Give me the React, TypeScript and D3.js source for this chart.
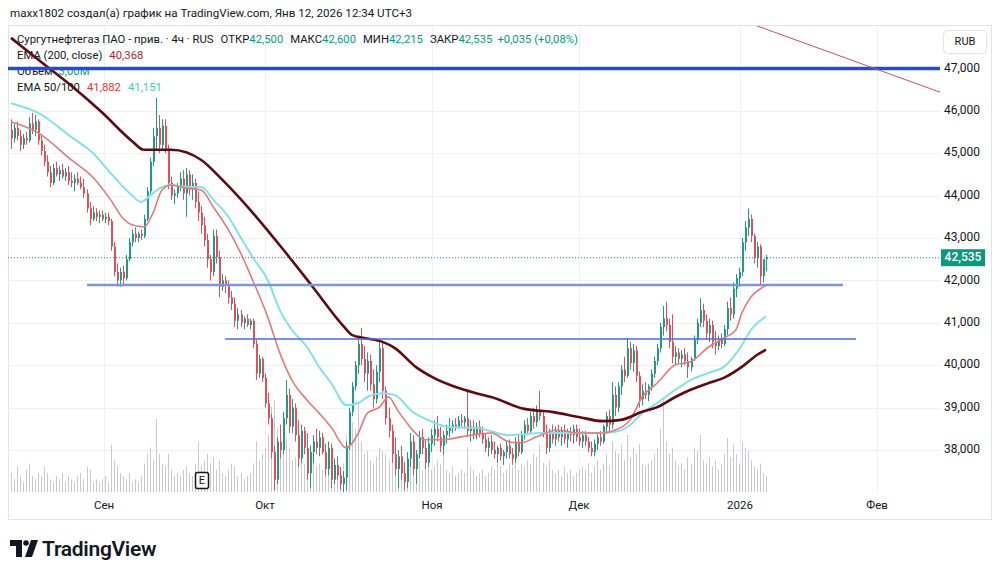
import React from 'react';
import * as d3 from 'd3';

// 4h candles, SNGSP, from late Aug 2025 to Jan 12 2026
const opens = [
  45.55, 45.35, 45.60, 45.40, 45.20, 45.35, 45.30, 45.70, 45.55, 45.75,
  45.30, 45.05, 44.80, 44.55, 44.30, 44.65, 44.50, 44.60, 44.45, 44.55,
  44.35, 44.30, 44.40, 44.30, 44.20, 44.05, 43.70, 43.45, 43.60, 43.50,
  43.55, 43.45, 43.50, 43.40, 42.80, 42.20, 42.00, 42.20, 42.05, 42.50,
  42.90, 43.10, 43.00, 43.10, 43.05, 43.45, 44.10, 44.80, 45.40, 45.60,
  45.20, 45.65, 45.10, 44.30, 44.00, 44.05, 44.20, 44.40, 44.05, 44.50,
  44.15, 44.30, 43.85, 43.60, 43.30, 42.95, 42.50, 42.20, 43.05, 42.55,
  41.85, 42.00, 41.90, 41.60, 41.45, 41.05, 41.20, 41.00, 41.10, 40.95,
  41.05, 40.50, 39.80, 40.15, 39.70, 39.10, 38.75, 37.95, 37.30, 38.20,
  38.00, 38.75, 39.30, 38.55, 39.00, 38.35, 37.80, 38.45, 38.05, 37.45,
  37.95, 38.20, 38.05, 38.30, 37.95, 37.55, 38.05, 37.30, 37.65, 37.40,
  37.20, 37.35, 38.10, 38.90, 39.50, 40.00, 40.50, 40.15, 39.80, 40.10,
  39.55, 39.20, 39.85, 40.40, 39.40, 38.75, 38.45, 37.90, 37.55, 37.85,
  37.45, 37.25, 37.80, 38.20, 37.55, 37.90, 38.30, 38.05, 37.70, 38.15,
  38.35, 38.50, 38.30, 38.10, 38.35, 38.45, 38.55, 38.60, 38.55, 38.70,
  38.65, 38.75, 38.45, 38.55, 38.35, 38.55, 38.40, 38.25, 38.05, 38.20,
  38.00, 37.90, 38.05, 37.85, 37.95, 38.10, 37.90, 37.80, 38.20, 37.95,
  38.35, 38.60, 38.45, 38.80, 38.65, 38.95, 38.80, 38.40, 38.05, 38.40,
  38.25, 38.45, 38.30, 38.45, 38.25, 38.40, 38.35, 38.50, 38.30, 38.20,
  38.35, 38.20, 38.05, 37.95, 38.15, 38.30, 38.20, 38.55, 38.80, 38.60,
  39.30, 39.00, 39.50, 39.90, 39.75, 40.40, 40.05, 40.35, 39.75, 39.20,
  39.40, 39.30, 39.50, 39.80, 40.10, 40.40, 40.90, 41.10, 40.95, 40.55,
  40.20, 40.30, 40.15, 40.25, 40.10, 39.95, 40.15, 40.60, 41.00, 41.30,
  41.05, 40.75, 40.95, 40.55, 40.45, 40.60, 40.50, 40.85, 41.35, 41.20,
  41.80, 42.05, 42.20, 42.90, 43.25, 43.45, 43.05, 42.55, 42.80, 42.10, 42.50,
];
const highs = [
  45.80, 45.70, 45.75, 45.55, 45.45, 45.50, 45.85, 45.95, 45.90, 45.80,
  45.45, 45.20, 44.95, 44.70, 44.75, 44.80, 44.70, 44.75, 44.65, 44.70,
  44.55, 44.50, 44.55, 44.45, 44.40, 44.15, 43.85, 43.75, 43.70, 43.65,
  43.65, 43.60, 43.60, 43.45, 42.90, 42.40, 42.30, 42.35, 42.60, 43.00,
  43.20, 43.25, 43.15, 43.20, 43.55, 44.20, 44.90, 45.60, 46.30, 45.90,
  45.80, 45.80, 45.20, 44.45, 44.15, 44.30, 44.55, 44.60, 44.65, 44.60,
  44.50, 44.40, 44.10, 43.75, 43.50, 43.10, 42.60, 43.20, 43.20, 42.70,
  42.15, 42.10, 42.00, 41.75, 41.60, 41.35, 41.30, 41.15, 41.20, 41.10,
  41.10, 40.60, 40.25, 40.20, 39.80, 39.35, 38.85, 38.10, 38.30, 38.60,
  38.90, 39.65, 39.45, 39.20, 39.10, 38.70, 38.60, 38.55, 38.40, 38.10,
  38.35, 38.50, 38.45, 38.40, 38.15, 38.20, 38.15, 37.80, 37.85, 37.60,
  37.50, 38.20, 39.00, 39.60, 40.10, 40.70, 40.88, 40.45, 40.30, 40.25,
  39.90, 40.00, 40.60, 40.55, 39.50, 39.00, 38.60, 38.30, 38.00, 38.10,
  37.70, 37.95, 38.40, 38.35, 38.00, 38.45, 38.50, 38.25, 38.30, 38.50,
  38.70, 38.80, 38.55, 38.45, 38.60, 38.75, 38.70, 38.75, 38.80, 38.85,
  38.80, 39.40, 38.70, 38.70, 38.65, 38.70, 38.55, 38.40, 38.30, 38.35,
  38.20, 38.10, 38.15, 38.00, 38.20, 38.25, 38.05, 38.30, 38.35, 38.45,
  38.70, 38.75, 38.90, 39.00, 39.05, 39.40, 38.90, 38.60, 38.50, 38.60,
  38.55, 38.60, 38.55, 38.60, 38.50, 38.55, 38.60, 38.60, 38.50, 38.45,
  38.45, 38.30, 38.20, 38.25, 38.40, 38.45, 38.60, 38.90, 38.95, 39.60,
  39.50, 39.60, 40.00, 40.20, 40.64, 40.55, 40.50, 40.45, 39.85, 39.55,
  39.60, 39.55, 39.90, 40.20, 40.50, 41.00, 41.40, 41.50, 41.10, 41.20,
  40.45, 40.40, 40.35, 40.40, 40.30, 40.20, 40.70, 41.10, 41.58, 41.45,
  41.20, 41.10, 41.05, 40.80, 40.70, 40.75, 40.95, 41.50, 41.60, 41.95,
  42.15, 42.30, 43.00, 43.40, 43.70, 43.55, 43.10, 42.90, 42.85, 42.35, 42.60,
];
const lows = [
  45.10, 45.25, 45.30, 45.05, 45.10, 45.20, 45.25, 45.45, 45.40, 45.20,
  44.95, 44.70, 44.45, 44.20, 44.25, 44.45, 44.35, 44.40, 44.35, 44.25,
  44.20, 44.10, 44.25, 44.15, 43.95, 43.60, 43.30, 43.40, 43.40, 43.35,
  43.40, 43.35, 43.30, 42.70, 42.10, 41.85, 41.85, 41.90, 42.00, 42.45,
  42.80, 42.90, 42.90, 42.95, 43.00, 43.40, 44.00, 44.70, 45.10, 45.00,
  45.05, 45.00, 44.15, 43.90, 43.80, 43.95, 44.10, 43.90, 43.50, 44.00,
  43.90, 43.70, 43.40, 43.10, 42.80, 42.30, 42.00, 42.10, 42.40, 41.60,
  41.75, 41.70, 41.45, 41.30, 40.90, 40.85, 40.90, 40.85, 40.90, 40.85,
  40.40, 39.65, 39.70, 39.60, 39.00, 38.60, 37.80, 37.05, 37.20, 37.80,
  37.90, 38.60, 38.40, 38.40, 38.20, 37.60, 37.70, 37.90, 37.30, 37.10,
  37.70, 37.90, 37.85, 37.90, 37.40, 37.40, 37.10, 37.20, 37.30, 37.05,
  37.00, 37.05, 38.00, 38.80, 39.40, 39.80, 40.00, 39.60, 39.40, 39.40,
  39.00, 39.10, 39.60, 39.20, 38.60, 38.30, 37.70, 37.40, 37.10, 37.30,
  37.05, 37.10, 37.60, 37.40, 37.20, 37.80, 37.90, 37.55, 37.60, 37.95,
  38.10, 38.20, 37.95, 37.90, 38.15, 38.30, 38.40, 38.45, 38.50, 38.55,
  38.50, 38.30, 38.20, 38.25, 38.25, 38.30, 38.15, 37.95, 37.85, 37.90,
  37.80, 37.70, 37.75, 37.65, 37.80, 37.80, 37.65, 37.70, 37.85, 37.90,
  38.25, 38.35, 38.40, 38.50, 38.55, 38.70, 38.30, 37.90, 37.95, 38.15,
  38.10, 38.20, 38.10, 38.15, 38.05, 38.20, 38.15, 38.20, 38.10, 38.05,
  38.10, 37.95, 37.85, 37.85, 38.00, 38.10, 38.15, 38.40, 38.45, 38.50,
  38.80, 38.90, 39.30, 39.60, 39.70, 39.90, 39.85, 39.60, 39.00, 39.05,
  39.20, 39.15, 39.40, 39.70, 40.00, 40.30, 40.70, 40.80, 40.40, 40.05,
  40.00, 40.05, 39.95, 40.00, 39.70, 39.85, 40.10, 40.50, 40.90, 40.90,
  40.60, 40.55, 40.40, 40.25, 40.35, 40.40, 40.45, 40.70, 41.05, 41.10,
  41.60, 41.85, 42.10, 42.70, 43.05, 42.90, 42.40, 42.30, 41.90, 41.95, 42.215,
];
const closes = [
  45.35, 45.60, 45.40, 45.20, 45.35, 45.30, 45.70, 45.55, 45.75, 45.30,
  45.05, 44.80, 44.55, 44.30, 44.65, 44.50, 44.60, 44.45, 44.55, 44.35,
  44.30, 44.40, 44.30, 44.20, 44.05, 43.70, 43.45, 43.60, 43.50, 43.55,
  43.45, 43.50, 43.40, 42.80, 42.20, 42.00, 42.20, 42.05, 42.50, 42.90,
  43.10, 43.00, 43.10, 43.05, 43.45, 44.10, 44.80, 45.40, 45.60, 45.20,
  45.65, 45.10, 44.30, 44.00, 44.05, 44.20, 44.40, 44.05, 44.50, 44.15,
  44.30, 43.85, 43.60, 43.30, 42.95, 42.50, 42.20, 43.05, 42.55, 41.85,
  42.00, 41.90, 41.60, 41.45, 41.05, 41.20, 41.00, 41.10, 40.95, 41.05,
  40.50, 39.80, 40.15, 39.70, 39.10, 38.75, 37.95, 37.30, 38.20, 38.00,
  38.75, 39.30, 38.55, 39.00, 38.35, 37.80, 38.45, 38.05, 37.45, 37.95,
  38.20, 38.05, 38.30, 37.95, 37.55, 38.05, 37.30, 37.65, 37.40, 37.20,
  37.35, 38.10, 38.90, 39.50, 40.00, 40.50, 40.15, 39.80, 40.10, 39.55,
  39.20, 39.85, 40.40, 39.40, 38.75, 38.45, 37.90, 37.55, 37.85, 37.45,
  37.25, 37.80, 38.20, 37.55, 37.90, 38.30, 38.05, 37.70, 38.15, 38.35,
  38.50, 38.30, 38.10, 38.35, 38.45, 38.55, 38.60, 38.55, 38.70, 38.65,
  38.75, 38.45, 38.55, 38.35, 38.55, 38.40, 38.25, 38.05, 38.20, 38.00,
  37.90, 38.05, 37.85, 37.95, 38.10, 37.90, 37.80, 38.20, 37.95, 38.35,
  38.60, 38.45, 38.80, 38.65, 38.95, 38.80, 38.40, 38.05, 38.40, 38.25,
  38.45, 38.30, 38.45, 38.25, 38.40, 38.35, 38.50, 38.30, 38.20, 38.35,
  38.20, 38.05, 37.95, 38.15, 38.30, 38.20, 38.55, 38.80, 38.60, 39.30,
  39.00, 39.50, 39.90, 39.75, 40.40, 40.05, 40.35, 39.75, 39.20, 39.40,
  39.30, 39.50, 39.80, 40.10, 40.40, 40.90, 41.10, 40.95, 40.55, 40.20,
  40.30, 40.15, 40.25, 40.10, 39.95, 40.15, 40.60, 41.00, 41.30, 41.05,
  40.75, 40.95, 40.55, 40.45, 40.60, 40.50, 40.85, 41.35, 41.20, 41.80,
  42.05, 42.20, 42.90, 43.25, 43.45, 43.05, 42.55, 42.80, 42.10, 42.50, 42.535,
];
// volume, millions
const volumes = [
  6, 4, 8, 5, 3, 7, 9, 5, 4, 6,
  5, 8, 6, 4, 3, 5, 4, 6, 3, 5,
  4, 3, 5, 6, 4, 8, 7, 3, 4, 3,
  4, 5, 3, 15, 10, 8, 6, 5, 4, 6,
  3, 4, 3, 5, 9, 12, 14, 10, 23, 12,
  9, 8, 12, 7, 5, 6, 5, 7, 8, 6,
  5, 9, 16, 8, 10, 12, 9, 11, 7, 10,
  6, 5, 7, 9, 8, 5, 6, 4, 5, 6,
  9, 16, 10, 12, 14, 18, 27, 29, 20, 15,
  12, 17, 14, 10, 11, 16, 12, 9, 13, 15,
  10, 8, 9, 7, 11, 9, 13, 8, 6, 7,
  9, 18, 24, 22, 20, 28, 16, 12, 13, 10,
  9, 11, 14, 13, 12, 10, 15, 12, 11, 9,
  10, 12, 9, 11, 8, 10, 7, 9, 8, 7,
  8, 10, 9, 12, 7, 6, 8, 5, 6, 7,
  6, 14, 8, 7, 5, 6, 7, 5, 6, 8,
  7, 9, 8, 6, 7, 9, 8, 10, 7, 9,
  8, 10, 9, 12, 11, 15, 9, 8, 10, 7,
  6, 7, 5, 8, 6, 7, 5, 6, 7, 8,
  7, 9, 6, 8, 10, 7, 9, 12, 8, 16,
  13, 12, 15, 10, 18, 11, 14, 12, 15, 9,
  8, 9, 10, 12, 14, 20, 30, 16, 12, 14,
  10, 8, 9, 7, 11, 9, 14, 13, 18, 10,
  9, 11, 8, 10, 7, 9, 12, 17, 11, 15,
  12, 9, 16, 14, 13, 10, 8, 7, 9, 6, 5,
];

// EMA lines, read at bar indexes
const ema200Idx = [0, 10, 20, 30, 40, 44, 53, 63, 70, 80, 90, 100, 110, 113, 117, 123, 127, 134, 140, 147, 154, 159, 170, 179, 188, 196, 202, 209, 214, 220, 225, 231, 236, 242, 247, 250];
const ema200Val = [47.72, 47.15, 46.59, 45.97, 45.29, 45.08, 45.08, 44.84, 44.37, 43.6, 42.74, 41.84, 40.93, 40.71, 40.64, 40.55, 40.41, 39.96, 39.70, 39.49, 39.34, 39.25, 38.97, 38.90, 38.78, 38.68, 38.71, 38.90, 39.01, 39.25, 39.42, 39.58, 39.70, 39.96, 40.24, 40.368];
const ema50Idx = [0, 9, 20, 27, 33, 37, 40, 44, 47, 50, 53, 58, 63, 67, 72, 76, 80, 85, 89, 93, 98, 102, 106, 111, 115, 118, 122, 125, 128, 133, 137, 143, 149, 159, 165, 169, 174, 181, 188, 196, 200, 205, 209, 214, 220, 225, 231, 236, 240, 242, 245, 249, 250];
const ema50Val = [45.74, 45.48, 44.84, 44.44, 43.90, 43.47, 43.31, 43.26, 43.59, 44.13, 44.25, 44.18, 44.13, 43.73, 43.19, 42.65, 42.01, 41.14, 40.29, 39.65, 39.18, 38.87, 38.54, 38.05, 38.40, 38.87, 39.01, 39.25, 38.94, 38.47, 38.24, 38.24, 38.31, 38.40, 38.19, 38.17, 38.31, 38.47, 38.40, 38.40, 38.47, 38.71, 39.25, 39.58, 40.01, 40.08, 40.43, 40.64, 40.83, 41.23, 41.61, 41.84, 41.882];
const ema100Idx = [0, 9, 20, 27, 33, 40, 43, 47, 50, 53, 58, 63, 67, 72, 76, 80, 85, 89, 93, 98, 102, 106, 111, 115, 118, 123, 127, 133, 138, 145, 154, 165, 176, 194, 200, 205, 209, 214, 220, 225, 231, 236, 241, 245, 250];
const ema100Val = [46.18, 45.95, 45.38, 45.01, 44.53, 44.01, 43.85, 44.06, 44.20, 44.25, 44.20, 44.20, 43.90, 43.50, 43.02, 42.55, 42.01, 41.30, 40.83, 40.43, 39.96, 39.58, 39.06, 39.11, 39.25, 39.34, 39.30, 38.90, 38.71, 38.54, 38.52, 38.35, 38.40, 38.40, 38.43, 38.59, 38.87, 39.11, 39.42, 39.65, 39.82, 39.96, 40.36, 40.83, 41.151];

// drawings
const levelPrices = [47.0, 41.89, 40.62];
const levelFrom = [-1.2, 25.2, 70.9];
const levelTo = [307.6, 275.5, 279.8];
const levelColors = ['#1f4fd1', '#7f97da', '#4d6fcb'];
const levelWidths = [3.5, 2.5, 1.5];
const trendIdx = [244, 307.6];
const trendVal = [48.08, 46.44];

const priceTicks = [38, 39, 40, 41, 42, 43, 44, 45, 46, 47];
const monthLabels = ['Сен', 'Окт', 'Ноя', 'Дек', '2026', 'Фев'];
const monthIdx = [30.8, 84.1, 139.4, 188.1, 241.4, 286.8];

const lastPrice = 42.535;

const FONT = 'Roboto, "Noto Sans", sans-serif';
const TXT = '#131722';
const UP = '#1e9b82';
const DOWN = '#e0505c';
const TEAL = '#089981';

const fmt = (v: number) => v.toFixed(3).replace('.', ',');

export default function App() {
  const paneL = 8, paneR = 940, paneT = 26, paneB = 492;

  const x = d3.scaleLinear().domain([0, 250]).range([11, 766]);
  const y = d3.scaleLinear().domain([37, 48]).range([492.4, 26]);
  const yVol = d3.scaleLinear().domain([0, 30]).range([paneB, 397]);

  const emaPath = (idx: number[], vals: number[]) =>
    d3.line<number>()
      .x((_, k) => x(idx[k]))
      .y(v => y(v))
      .curve(d3.curveMonotoneX)(vals) || '';

  return (
    <svg width={1000} height={575} style={{ position: 'absolute', left: 0, top: 0, background: '#fff' }}>
      <defs>
        <clipPath id="pane">
          <rect x={paneL} y={paneT} width={paneR - paneL} height={paneB - paneT} />
        </clipPath>
      </defs>
      <rect width={1000} height={575} fill="#fff" />

      {/* header */}
      <text x={10} y={14} dominantBaseline="middle" fontFamily={FONT} fontSize={11.6} fill={TXT}>
        maxx1802 создал(а) график на TradingView.com, Янв 12, 2026 12:34 UTC+3
      </text>

      {/* frame */}
      <rect x={8.5} y={25.5} width={983} height={494} fill="none" stroke="#e0e3eb" />

      {/* grid */}
      {priceTicks.map(t => (
        <line key={'hg' + t} x1={paneL} x2={paneR} y1={Math.round(y(t)) + 0.5} y2={Math.round(y(t)) + 0.5} stroke="#eef0f3" />
      ))}
      {monthIdx.map((m, k) => (
        <line key={'vg' + k} x1={Math.round(x(m)) + 0.5} x2={Math.round(x(m)) + 0.5} y1={paneT} y2={paneB} stroke="#eef0f3" />
      ))}

      {/* legend */}
      <g fontFamily={FONT} fontSize={11.3} fill={TXT}>
        <text x={17} y={40} dominantBaseline="middle">
          <tspan>Сургутнефтегаз ПАО - прив. · 4ч · RUS</tspan>
          <tspan dx={7}>ОТКР</tspan><tspan fill={TEAL}>42,500</tspan>
          <tspan dx={7}>МАКС</tspan><tspan fill={TEAL}>42,600</tspan>
          <tspan dx={7}>МИН</tspan><tspan fill={TEAL}>42,215</tspan>
          <tspan dx={7}>ЗАКР</tspan><tspan fill={TEAL}>42,535</tspan>
          <tspan dx={5} fill={TEAL}>+0,035 (+0,08%)</tspan>
        </text>
        <text x={17} y={56} dominantBaseline="middle">
          <tspan>EMA (200, close)</tspan><tspan dx={7} fill="#a52a35">40,368</tspan>
        </text>
        <text x={17} y={72} dominantBaseline="middle">
          <tspan>Объём</tspan><tspan dx={6} fill={TEAL}>3,00M</tspan>
        </text>
        <text x={17} y={88} dominantBaseline="middle">
          <tspan>EMA 50/100</tspan><tspan dx={7} fill="#e53935">41,882</tspan><tspan dx={7} fill="#3fc9d8">41,151</tspan>
        </text>
      </g>

      <g clipPath="url(#pane)">
        {/* volume */}
        {volumes.map((v, i) => (
          <rect key={'v' + i} x={Math.round(x(i))} y={yVol(v)} width={1} height={paneB - yVol(v)} fill="#c9c9cc" />
        ))}

        {/* candles */}
        {closes.map((c, i) => {
          const o = opens[i];
          const col = c >= o ? UP : DOWN;
          const cx = Math.round(x(i));
          const top = y(Math.max(o, c));
          const bot = y(Math.min(o, c));
          return (
            <g key={'c' + i} fill={col}>
              <rect x={cx} y={y(highs[i])} width={1} height={y(lows[i]) - y(highs[i])} />
              <rect x={cx} y={top} width={2} height={Math.max(1, bot - top)} />
            </g>
          );
        })}

        {/* EMAs */}
        <path d={emaPath(ema100Idx, ema100Val)} fill="none" stroke="#86e0ea" strokeWidth={2} />
        <path d={emaPath(ema50Idx, ema50Val)} fill="none" stroke="#e57a7c" strokeWidth={1.6} />
        <path d={emaPath(ema200Idx, ema200Val)} fill="none" stroke="#5e0b14" strokeWidth={2.6} />

        {/* drawings */}
        {levelPrices.map((p, k) => (
          <line key={'lv' + k} x1={x(levelFrom[k])} x2={x(levelTo[k])} y1={y(p)} y2={y(p)}
            stroke={levelColors[k]} strokeWidth={levelWidths[k]} />
        ))}
        <line x1={x(trendIdx[0])} y1={y(trendVal[0])} x2={x(trendIdx[1])} y2={y(trendVal[1])} stroke="#c9506a" strokeWidth={1} />

        {/* last price line */}
        <line x1={paneL} x2={paneR} y1={y(lastPrice)} y2={y(lastPrice)} stroke={TEAL} strokeWidth={1} strokeDasharray="1 2" />
      </g>

      {/* earnings marker */}
      <g>
        <rect x={195.5} y={472.5} width={13} height={16} rx={2} fill="#fff" stroke={TXT} strokeWidth={1.5} />
        <text x={202} y={481} textAnchor="middle" dominantBaseline="middle" fontFamily={FONT} fontSize={11} fill={TXT}>E</text>
      </g>

      {/* price axis */}
      <g fontFamily={FONT} fontSize={12} fill={TXT}>
        {priceTicks.map(t => (
          <text key={'pt' + t} x={944} y={y(t)} dominantBaseline="middle">{fmt(t)}</text>
        ))}
      </g>
      <rect x={941} y={y(lastPrice) - 8.5} width={44} height={17} fill={TEAL} />
      <text x={963} y={y(lastPrice)} textAnchor="middle" dominantBaseline="middle" fontFamily={FONT} fontSize={12} fontWeight={500} fill="#fff">
        {fmt(lastPrice)}
      </text>
      <rect x={943.5} y={30.5} width={43} height={23} rx={4} fill="#fff" stroke="#e0e3eb" />
      <text x={965} y={42} textAnchor="middle" dominantBaseline="middle" fontFamily={FONT} fontSize={11} fill={TXT}>RUB</text>

      {/* time axis */}
      <g fontFamily={FONT} fontSize={11.5} fill={TXT}>
        {monthLabels.map((m, k) => (
          <text key={'m' + k} x={x(monthIdx[k])} y={506} textAnchor="middle" dominantBaseline="middle">{m}</text>
        ))}
      </g>

      {/* logo */}
      <g fill="#131722">
        <path d="M10 540 H22 V557 H16 V546 H10 Z" />
        <circle cx={26} cy={543} r={2.8} />
        <path d="M31 540 H38 L32 557 H25 Z" />
        <text x={42} y={556} fontFamily={FONT} fontSize={21} fontWeight={600} letterSpacing={-0.3}>TradingView</text>
      </g>
    </svg>
  );
}
